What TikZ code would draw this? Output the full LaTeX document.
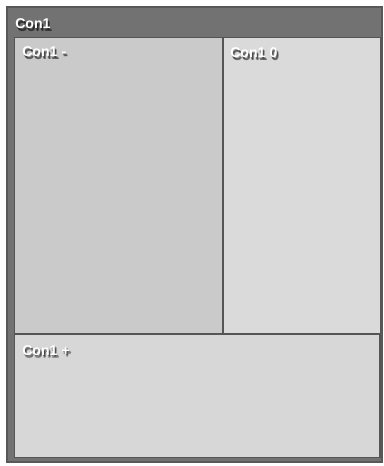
\documentclass[tikz,border=0pt]{standalone}
\usepackage{fontspec}
\setmainfont{Liberation Sans}
\usetikzlibrary{positioning}

\definecolor{frameDark}{RGB}{88,88,88}
\definecolor{frameGray}{RGB}{114,114,114}
\definecolor{panelMinus}{RGB}{202,202,202}
\definecolor{panelZero}{RGB}{218,218,218}
\definecolor{panelPlus}{RGB}{215,215,215}
\definecolor{splitLine}{RGB}{85,85,85}

\tikzset{
  conlabel/.style={anchor=base west, inner sep=0pt, text=white, font=\bfseries\fontsize{10.6}{12}\selectfont},
  conshadow/.style={anchor=base west, inner sep=0pt, text=black, opacity=0.3, font=\bfseries\fontsize{10.6}{12}\selectfont}
}

\begin{document}
\begin{tikzpicture}[x=0.75pt,y=0.75pt,yscale=-1,xscale=1]
\useasboundingbox (0,0) rectangle (383,466);
\fill [white] (0,0) rectangle (383,466);

%Shape: Rectangle [outer frame]
\draw [draw=frameDark, fill=frameGray, line width=1.5] (6.75,6.75) rectangle (382,461.5);
%Shape: Rectangle [inner frame]
\draw [draw=splitLine, fill=panelPlus, line width=1] (14.5,37.5) rectangle (380,457.5);

%Shape: Rectangle [left panel]
\fill [panelMinus] (15,38) rectangle (222,333);
%Shape: Rectangle [right panel]
\fill [panelZero] (223,38) rectangle (379.5,333);

%Straight Lines [vertical split]
\draw [splitLine, line width=1.5] (222.5,37.5) -- (222.5,333.5);
%Straight Lines [horizontal split]
\draw [splitLine, line width=1.8] (14.5,333.8) -- (380,333.8);

% Text Node
\foreach \dx/\dy in {1/1.5,2/2.5,1.5/3}
  \node [conshadow] at (15+\dx,29+\dy) {Con1};
\node [conlabel] (title) at (15,29) {Con1};
% Text Node
\foreach \dx/\dy in {1/1.5,2/2.5,1.5/3}
  \node [conshadow] at (22+\dx,57+\dy) {Con1 -};
\node [conlabel] (minus) at (22,57) {Con1 -};
% Text Node
\foreach \dx/\dy in {1/1.5,2/2.5,1.5/3}
  \node [conshadow] at (230+\dx,58+\dy) {Con1 0};
\node [conlabel] (zero) at (230,58) {Con1 0};
% Text Node
\foreach \dx/\dy in {1/1.5,2/2.5,1.5/3}
  \node [conshadow] at (22+\dx,355+\dy) {Con1 +};
\node [conlabel] (plus) at (22,355) {Con1 +};

\end{tikzpicture}
\end{document}
